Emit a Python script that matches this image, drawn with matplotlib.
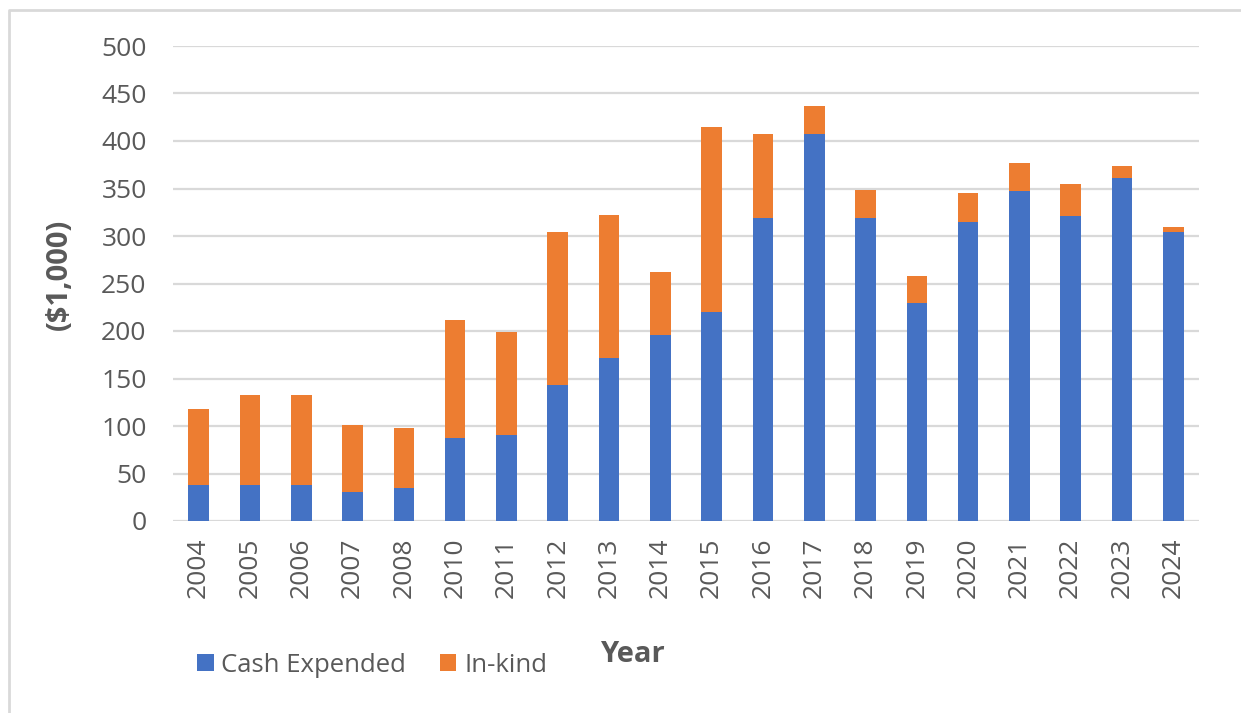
import numpy as np
import matplotlib
matplotlib.use("Agg")
import matplotlib.pyplot as plt
from matplotlib.lines import Line2D

plt.rcParams['font.family'] = ['Open Sans', 'DejaVu Sans']

years = ['2004', '2005', '2006', '2007', '2008', '2010', '2011', '2012', '2013', '2014',
         '2015', '2016', '2017', '2018', '2019', '2020', '2021', '2022', '2023', '2024']
cash = [38, 38, 38, 31, 35, 87, 91, 143, 172, 196,
        220, 319, 407, 319, 230, 315, 347, 321, 361, 304]
totals = [118, 133, 133, 101, 98, 212, 199, 304, 322, 262,
          415, 407, 437, 348, 258, 345, 377, 355, 374, 310]
inkind = [t - c for t, c in zip(totals, cash)]

grey = '#595959'

fig = plt.figure(figsize=(12.41, 7.13), dpi=100)
ax = fig.add_axes([173/1241, 1 - 521/713, 1026/1241, 475/713])

x = np.arange(len(years))
ax.bar(x, cash, width=0.4, color='#4472C4', label='Cash Expended', zorder=3)
ax.bar(x, inkind, width=0.4, bottom=cash, color='#ED7D31', label='In-kind', zorder=3)

ax.set_xlim(-0.5, len(years) - 0.5)
ax.set_ylim(0, 500)
ax.set_yticks(np.arange(0, 501, 50))
ax.set_xticks(x)
ax.set_xticklabels(years, rotation=90, fontsize=19, color=grey)
ax.tick_params(axis='y', labelsize=19, labelcolor=grey, length=0, pad=19)
ax.tick_params(axis='x', length=0, pad=12)
ax.grid(axis='y', color='#d9d9d9', linewidth=1.6, zorder=0)
for s in ax.spines.values():
    s.set_visible(False)

fig.text(59/1241, 1 - 274/713, '($1,000)', rotation=90, fontsize=21, fontweight='bold',
         color=grey, ha='center', va='center')
fig.text(632/1241, 1 - 655/713, 'Year', fontsize=21, fontweight='bold',
         color=grey, ha='center', va='center')

leg = fig.legend(loc='center left', bbox_to_anchor=(197/1241, 1 - 665/713), ncol=2,
                 frameon=False, fontsize=18.5, handlelength=0.65, handleheight=0.65,
                 handletextpad=0.3, columnspacing=1.3, borderaxespad=0, borderpad=0)
for t in leg.get_texts():
    t.set_color(grey)

# chart area frame (left and top edges visible)
fig.add_artist(Line2D([9/1241, 9/1241, 1.0], [0.0, 1 - 10/713, 1 - 10/713],
                      transform=fig.transFigure, color='#d9d9d9', linewidth=2))

fig.savefig('out.png', dpi=100, facecolor='white')
